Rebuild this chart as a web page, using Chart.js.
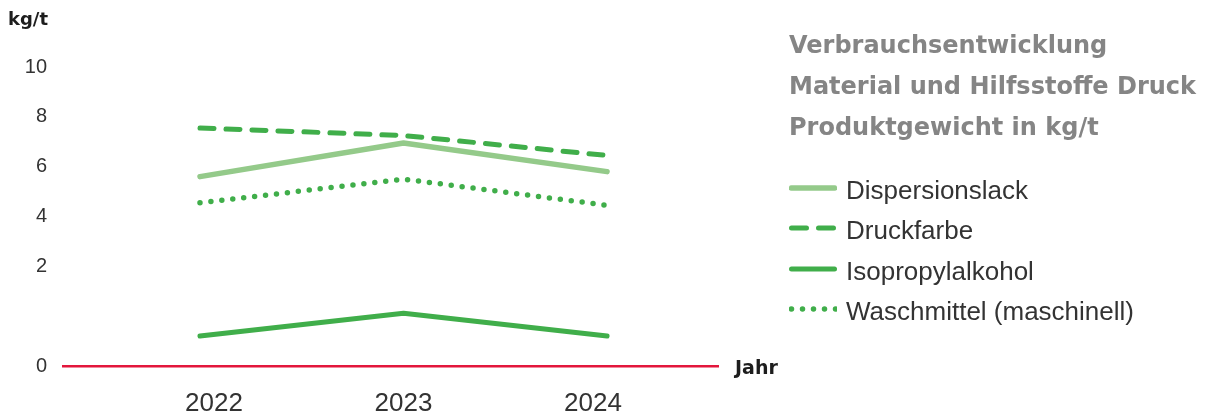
<!DOCTYPE html>
<html lang="de">
<head>
<meta charset="utf-8">
<title>Verbrauchsentwicklung Material und Hilfsstoffe Druck</title>
<script src="https://cdn.jsdelivr.net/npm/chart.js@4.4.1/dist/chart.umd.min.js"></script>
<style>
  html, body { margin: 0; padding: 0; background: #fff; }
  #wrap { position: relative; width: 1206px; height: 414px; overflow: hidden; }
  #chart { position: absolute; left: 0; top: 0; }
  .achse { position: absolute; font-family: 'DejaVu Sans', sans-serif; font-weight: bold; color: #1d1d1d; line-height: 20px; white-space: nowrap; }
  #titel { position: absolute; left: 789px; top: 25px; font-family: 'DejaVu Sans', sans-serif; font-weight: bold;
           font-size: 24px; line-height: 41px; color: #858585; white-space: nowrap; }
  #legende { position: absolute; left: 789px; top: 170px; font-family: 'Liberation Sans', Arial, sans-serif;
             font-size: 26px; color: #333; }
  .eintrag { display: flex; align-items: center; height: 40.33px; line-height: 40.33px; white-space: nowrap; }
  .eintrag svg { margin-right: 9px; flex: none; }
</style>
</head>
<body>
<div id="wrap">
  <canvas id="chart" width="1206" height="414"></canvas>
  <div class="achse" style="left:8px; top:9px; font-size:18px;">kg/t</div>
  <div class="achse" style="left:735px; top:357px; font-size:19px;">Jahr</div>
  <div id="titel">Verbrauchsentwicklung<br>Material und Hilfsstoffe Druck<br>Produktgewicht in kg/t</div>
  <div id="legende"></div>
</div>
<script>
// Daten (kg/t)
const jahre = [2022, 2023, 2024];
const dispersionslack = [5.6, 6.95, 5.8];
const druckfarbe = [7.55, 7.25, 6.45];
const isopropylalkohol = [0.6, 1.06, 0.6];
const waschmittel = [4.55, 5.5, 4.45];
const yTicks = [0, 2, 4, 6, 8, 10];
const serien = ['Dispersionslack', 'Druckfarbe', 'Isopropylalkohol', 'Waschmittel (maschinell)'];

const gruen = '#40ae4a';
const hellgruen = '#94ca8a';

// y-Achse mit Bruch: der Bereich 0–2 ist doppelt so hoch wie die übrigen Schritte
function stauchen(v) { return v <= 2 ? v * 2 : v + 2; }
function strecken(t) { return t <= 4 ? t / 2 : t - 2; }

class GebrocheneAchse extends Chart.LinearScale {
  getPixelForValue(value) {
    const a = stauchen(this.min), b = stauchen(this.max);
    return this.getPixelForDecimal((stauchen(value) - a) / (b - a));
  }
  getValueForPixel(pixel) {
    const a = stauchen(this.min), b = stauchen(this.max);
    return strecken(a + this.getDecimalForPixel(pixel) * (b - a));
  }
}
GebrocheneAchse.id = 'gebrochen';
GebrocheneAchse.defaults = Chart.LinearScale.defaults;
Chart.register(GebrocheneAchse);

// Punkte {x: Jahr, y: Wert}
const punkte = (werte) => jahre.map((j, i) => ({ x: j, y: werte[i] }));

const datensaetze = [
  { label: serien[0], data: punkte(dispersionslack), borderColor: hellgruen, borderWidth: 5.5, borderDash: [] },
  { label: serien[1], data: punkte(druckfarbe), borderColor: gruen, borderWidth: 5, borderDash: [14, 12] },
  { label: serien[2], data: punkte(isopropylalkohol), borderColor: gruen, borderWidth: 5, borderDash: [] },
  { label: serien[3], data: punkte(waschmittel), borderColor: gruen, borderWidth: 5.5, borderDash: [0, 11] }
].map(d => Object.assign(d, {
  pointRadius: 0, tension: 0, fill: false,
  borderCapStyle: 'round', borderJoinStyle: 'round'
}));

new Chart(document.getElementById('chart'), {
  type: 'line',
  data: { datasets: datensaetze },
  options: {
    responsive: false,
    animation: false,
    devicePixelRatio: 1,
    layout: { padding: { top: 67, right: 488, left: 0, bottom: 0 } },
    plugins: { legend: { display: false }, tooltip: { enabled: false } },
    scales: {
      // Datenachse (unsichtbar)
      x: { type: 'linear', min: 2021.327, max: 2024.545, display: false },
      // Beschriftete Jahresachse mit roter Grundlinie
      jahr: {
        type: 'linear', position: 'bottom', min: 2021.203, max: 2024.66,
        grid: { display: false },
        border: { color: '#e3163c', width: 2.5 },
        afterBuildTicks: (s) => { s.ticks = jahre.map(j => ({ value: j })); },
        ticks: {
          callback: (v) => String(v),
          font: { family: 'Liberation Sans', size: 26 },
          color: '#333', padding: 14, maxRotation: 0, autoSkip: false
        },
        afterFit: (s) => { s.height = 48; }
      },
      y: {
        type: 'gebrochen', min: 0, max: 10,
        grid: { display: false },
        border: { display: false },
        afterBuildTicks: (s) => { s.ticks = yTicks.map(v => ({ value: v })); },
        ticks: { font: { family: 'Liberation Sans', size: 20 }, color: '#333', padding: 8 },
        afterFit: (s) => { s.width = 63; }
      }
    }
  }
});

// Legende als HTML, Linienmuster aus den Datensätzen
const legende = document.getElementById('legende');
datensaetze.forEach(d => {
  const dash = d.borderDash.length ? d.borderDash.join(' ') : 'none';
  const ende = d.borderDash[0] === 0 ? 47 : 45.5;
  const abstand = d.borderDash[0] === 14 ? '15 12' : dash;
  const zeile = document.createElement('div');
  zeile.className = 'eintrag';
  zeile.innerHTML =
    '<svg width="48" height="10"><line x1="2.5" y1="3" x2="' + ende + '" y2="3" stroke="' + d.borderColor +
    '" stroke-width="' + d.borderWidth + '" stroke-linecap="round" stroke-dasharray="' + abstand + '"/></svg>' +
    '<span>' + d.label + '</span>';
  legende.appendChild(zeile);
});
</script>
</body>
</html>
